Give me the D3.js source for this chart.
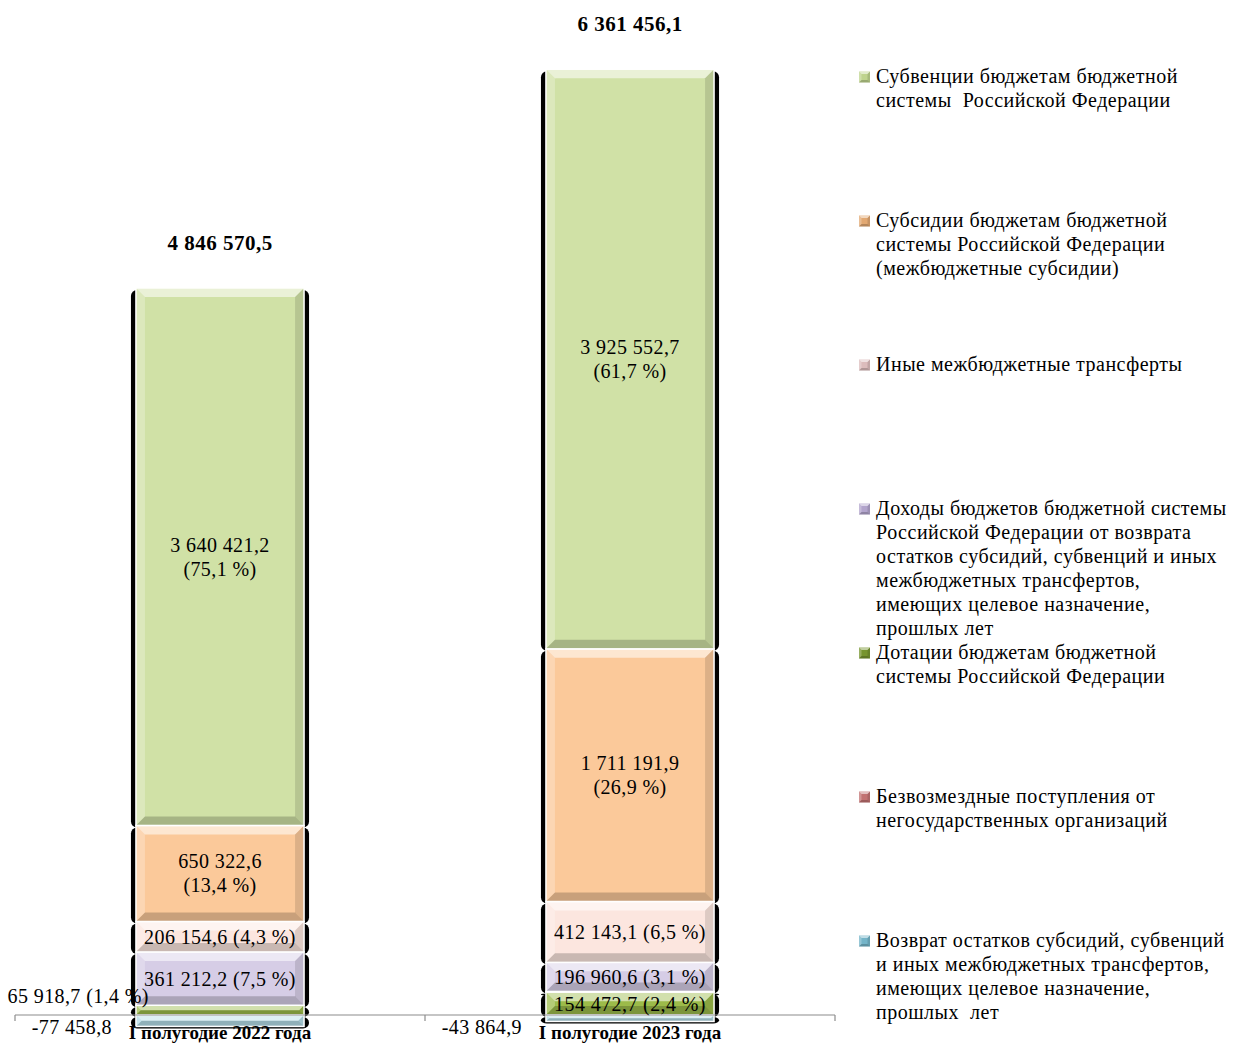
<!DOCTYPE html>
<html><head><meta charset="utf-8">
<script src="https://cdn.jsdelivr.net/npm/d3@7"></script>
<style>
body{margin:0;background:#fff;}
svg{display:block;font-family:"Liberation Serif","Times New Roman",serif;}
</style></head>
<body><svg id="c" width="1236" height="1043"></svg>
<script>
const categories = ["I полугодие 2022 года", "I полугодие 2023 года"];
const totals = [4846570.5, 6361456.1];
// stacked order bottom -> top
const seriesKeys = ["dotacii", "bezvozm", "dohody", "inye", "subsidii", "subvencii"];
const dotacii   = [65918.7, 154472.7];
const bezvozm   = [0, 5000.0];
const dohody    = [361212.2, 196960.6];
const inye      = [206154.6, 412143.1];
const subsidii  = [650322.6, 1711191.9];
const subvencii = [3640421.2, 3925552.7];
const vozvrat   = [-77458.8, -43864.9];

const legendNames = {
  subvencii: ["Субвенции бюджетам бюджетной", "системы  Российской Федерации"],
  subsidii: ["Субсидии бюджетам бюджетной", "системы Российской Федерации", "(межбюджетные субсидии)"],
  inye: ["Иные межбюджетные трансферты"],
  dohody: ["Доходы бюджетов бюджетной системы", "Российской Федерации от возврата", "остатков субсидий, субвенций и иных", "межбюджетных трансфертов,", "имеющих целевое назначение,", "прошлых лет"],
  dotacii: ["Дотации бюджетам бюджетной", "системы Российской Федерации"],
  bezvozm: ["Безвозмездные поступления от", "негосударственных организаций"],
  vozvrat: ["Возврат остатков субсидий, субвенций", "и иных межбюджетных трансфертов,", "имеющих целевое назначение,", "прошлых  лет"]
};
const legendOrder = ["subvencii", "subsidii", "inye", "dohody", "dotacii", "bezvozm", "vozvrat"];

const colors = {
  subvencii: "#d0e1a6", subsidii: "#fbc99a", inye: "#fce6df", dohody: "#d6cde6",
  dotacii: "#9cbb4a", bezvozm: "#c0504d", vozvrat: "#b5dde8"
};
const legendColors = {
  subvencii: "#bfd48e", subsidii: "#e2a872", inye: "#dcbcbc", dohody: "#b2a4cc",
  dotacii: "#76942e", bezvozm: "#c27272", vozvrat: "#74b4c8"
};

const data = {dotacii, bezvozm, dohody, inye, subsidii, subvencii, vozvrat};
const loc = d3.formatLocale({decimal: ",", thousands: " ", grouping: [3], currency: ["", ""], minus: "-"});
const fmt = loc.format(",.1f");
const pct = v => loc.format(".1f")(v) + " %";

const svg = d3.select("#c");
const x = d3.scaleBand().domain(categories).range([15, 835]).padding(0);
const barW = x.bandwidth() * 0.41;
const y = d3.scaleLinear().domain([0, 6400000]).range([1015, 70]);

const rows = categories.map((c, i) => {
  const r = {cat: c, i: i};
  seriesKeys.forEach(k => r[k] = data[k][i]);
  return r;
});
const stack = d3.stack().keys(seriesKeys)(rows);

const segs = [];
stack.forEach(layer => {
  layer.forEach((d, i) => {
    if (d[1] - d[0] > 0) segs.push({key: layer.key, i: i, y0: d[0], y1: d[1]});
  });
});
categories.forEach((c, i) => segs.push({key: "vozvrat", i: i, y0: vozvrat[i], y1: 0}));

function bx(i) { return x(categories[i]) + (x.bandwidth() - barW) / 2; }

// shadows
const gSh = svg.append("g");
segs.forEach(s => {
  const top = y(s.y1), h = y(s.y0) - y(s.y1);
  gSh.append("rect").attr("x", bx(s.i) - 5).attr("y", top + 2).attr("width", barW + 10)
    .attr("height", Math.max(h, 2)).attr("rx", 6).attr("fill", "#000");
});

// segments with bevel
const gB = svg.append("g");
function bevel(g, x0, y0, w, h, b) {
  g.append("polygon").attr("points", [[x0,y0],[x0+w,y0],[x0+w-b,y0+b],[x0+b,y0+b]].join(" "))
    .attr("fill", "#fff").attr("opacity", 0.55);
  g.append("polygon").attr("points", [[x0,y0],[x0+b,y0+b],[x0+b,y0+h-b],[x0,y0+h]].join(" "))
    .attr("fill", "#fff").attr("opacity", 0.25);
  g.append("polygon").attr("points", [[x0+w,y0],[x0+w,y0+h],[x0+w-b,y0+h-b],[x0+w-b,y0+b]].join(" "))
    .attr("fill", "#000").attr("opacity", 0.12);
  g.append("polygon").attr("points", [[x0,y0+h],[x0+w,y0+h],[x0+w-b,y0+h-b],[x0+b,y0+h-b]].join(" "))
    .attr("fill", "#000").attr("opacity", 0.2);
}
segs.forEach(s => {
  const top = y(s.y1), h = y(s.y0) - y(s.y1), x0 = bx(s.i);
  const g = gB.append("g");
  g.append("rect").attr("x", x0).attr("y", top).attr("width", barW).attr("height", h)
    .attr("fill", colors[s.key]);
  bevel(g, x0, top, barW, h, Math.min(9, h / 2));
  g.append("rect").attr("x", x0).attr("y", top).attr("width", barW).attr("height", h)
    .attr("fill", "none").attr("stroke", "#fff").attr("stroke-width", 1.5);
});

// axis line
const ax = svg.append("g").attr("stroke", "#8c8c8c").attr("stroke-width", 1.2);
const [r0, r1] = x.range();
ax.append("line").attr("x1", r0).attr("x2", r1).attr("y1", y(0)).attr("y2", y(0));
[r0, x(categories[1]), r1].forEach(t => ax.append("line").attr("x1", t).attr("x2", t).attr("y1", y(0)).attr("y2", y(0) + 6));

// labels
const gL = svg.append("g").attr("font-size", 20).attr("letter-spacing", 0.4).attr("fill", "#000");
segs.forEach(s => {
  const total = totals[s.i];
  const x0 = bx(s.i), cx = x0 + barW / 2;
  const mid = (y(s.y0) + y(s.y1)) / 2;
  const v = s.y1 - s.y0;
  if (s.key === "bezvozm") return;
  if (s.key === "vozvrat") {
    gL.append("text").attr("x", x0 - 24).attr("y", y(0) + 19).attr("text-anchor", "end").text(fmt(vozvrat[s.i]));
    return;
  }
  const p = pct(v / total * 100);
  if (s.key === "subvencii" || s.key === "subsidii") {
    const t = gL.append("text").attr("text-anchor", "middle");
    t.append("tspan").attr("x", cx).attr("y", mid - 5).text(fmt(v));
    t.append("tspan").attr("x", cx).attr("y", mid + 19).text("(" + p + ")");
  } else if (y(s.y0) - y(s.y1) < 15) {
    gL.append("text").attr("x", x0 + 13).attr("y", mid - 7).attr("text-anchor", "end").text(fmt(v) + " (" + p + ")");
  } else {
    gL.append("text").attr("x", cx).attr("y", mid + 7).attr("text-anchor", "middle").text(fmt(v) + " (" + p + ")");
  }
});

// totals
categories.forEach((c, i) => {
  const topV = seriesKeys.reduce((a, k) => a + data[k][i], 0);
  svg.append("text").attr("x", bx(i) + barW / 2).attr("y", y(topV) - 38)
    .attr("text-anchor", "middle").attr("font-weight", "bold").attr("font-size", 21)
    .attr("letter-spacing", 0.5).text(fmt(totals[i]));
  svg.append("text").attr("x", bx(i) + barW / 2).attr("y", 1039)
    .attr("text-anchor", "middle").attr("font-weight", "bold").attr("font-size", 19).text(c);
});

// legend
const gLeg = svg.append("g").attr("font-size", 20).attr("letter-spacing", 0.5);
legendOrder.forEach((k, i) => {
  const yy = 77 + 144 * i;
  const g = gLeg.append("g");
  g.append("rect").attr("x", 859).attr("y", yy - 5.5).attr("width", 11).attr("height", 11).attr("fill", legendColors[k]);
  bevel(g, 859, yy - 5.5, 11, 11, 2.5);
  const t = g.append("text").attr("fill", "#000");
  legendNames[k].forEach((ln, j) => {
    t.append("tspan").attr("x", 876).attr("y", yy + 6 + j * 24).style("white-space", "pre").text(ln);
  });
});
</script></body></html>
